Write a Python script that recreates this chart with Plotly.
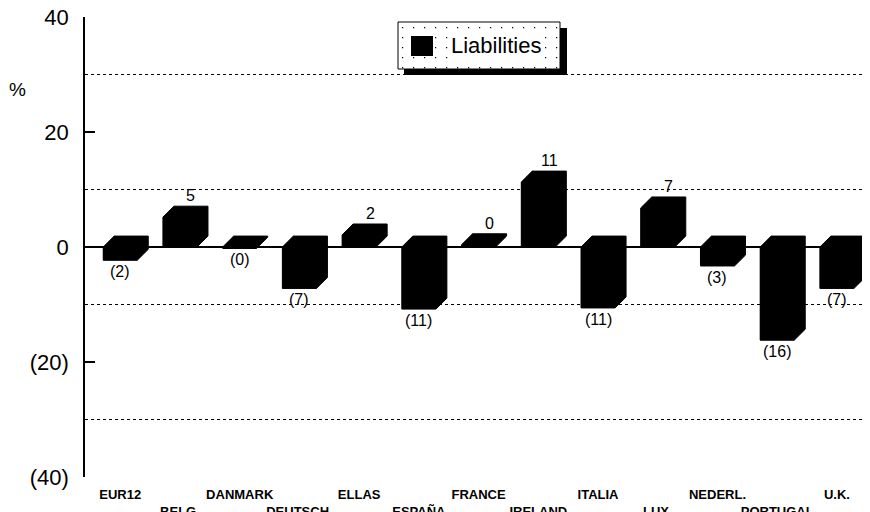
import plotly.graph_objects as go

categories = ["EUR12", "BELG.", "DANMARK", "DEUTSCH.", "ELLAS", "ESPAÑA", "FRANCE",
              "IRELAND", "ITALIA", "LUX.", "NEDERL.", "PORTUGAL", "U.K."]
liabilities = [-2.3, 5.2, -0.2, -7.2, 2.1, -10.8, 0.4, 11.3, -10.6, 6.8, -3.3, -16.2, -7.2]
y_tick_vals = [-40, -20, 0, 20, 40]
y_tick_text = ["(40)", "(20)", "0", "20", "40"]
grid_vals = [-30, -10, 10, 30]

BAR_W = 0.57
DX = 0.184   # depth offset in x units
DY = 1.9     # depth offset in y units
FONT = "Liberation Sans, Arial, Helvetica, sans-serif"

def fmt(v):
    r = round(abs(v))
    return f"({r})" if v < 0 else f"{r}"

xs = list(range(len(categories)))

# 3D silhouette polygons built from the data values
px, py = [], []
for i, v in zip(xs, liabilities):
    x0, x1 = i - BAR_W / 2, i + BAR_W / 2
    lo, hi = min(0, v), max(0, v)
    px += [x0, x1, x1 + DX, x1 + DX, x0 + DX, x0, x0, None]
    py += [lo, lo, lo + DY, hi + DY, hi + DY, hi, lo, None]

fig = go.Figure()
fig.add_trace(go.Scatter(x=px, y=py, mode="lines", fill="toself",
                         fillcolor="black", line=dict(color="black", width=1),
                         hoverinfo="skip", showlegend=False))
fig.add_trace(go.Bar(x=xs, y=liabilities, width=BAR_W, marker=dict(color="black", line=dict(width=0)),
                     name="Liabilities", showlegend=False))

# page has an 8px body margin; figure is sized/offset to compensate
OFF = 8
W, H = 870 - OFF, 512 - OFF
L, R, T, B = 85 - OFF, 2, 17 - OFF, 35
pw, ph = W - L - R, H - T - B

def pxp(x):
    return (x - OFF - L) / pw

def pyp(y):
    return (H - B - (y - OFF)) / ph

annotations = []
for i, v in zip(xs, liabilities):
    if v >= 0:
        annotations.append(dict(x=i + DX, y=v + DY, text=fmt(v), showarrow=False,
                                yanchor="bottom", yshift=0, xref="x", yref="y",
                                font=dict(family=FONT, size=16, color="black")))
    else:
        annotations.append(dict(x=i, y=v, text=fmt(v), showarrow=False,
                                yanchor="top", yshift=-1, xref="x", yref="y",
                                font=dict(family=FONT, size=16, color="black")))

annotations.append(dict(x=pxp(17), y=pyp(90), xref="paper", yref="paper", text="%", showarrow=False,
                        xanchor="center", yanchor="middle",
                        font=dict(family=FONT, size=19, color="black")))

shapes = []
for g in grid_vals:
    shapes.append(dict(type="line", xref="paper", yref="y", x0=0, x1=1, y0=g, y1=g,
                       line=dict(color="black", width=1, dash="dot"), layer="below"))

# legend box (shadow, box, key)
shapes.append(dict(type="rect", xref="paper", yref="paper", x0=pxp(404), x1=pxp(567),
                   y0=pyp(75), y1=pyp(28), fillcolor="black", line=dict(width=0)))
shapes.append(dict(type="rect", xref="paper", yref="paper", x0=pxp(398), x1=pxp(560),
                   y0=pyp(69), y1=pyp(22), fillcolor="white", line=dict(color="black", width=1)))
for yy in range(27, 68, 10):
    for xx in range(402, 558, 11):
        shapes.append(dict(type="rect", xref="paper", yref="paper", x0=pxp(xx), x1=pxp(xx + 1.2),
                           y0=pyp(yy + 1.2), y1=pyp(yy), fillcolor="black", line=dict(width=0)))
shapes.append(dict(type="rect", xref="paper", yref="paper", x0=pxp(411), x1=pxp(433),
                   y0=pyp(56), y1=pyp(36), fillcolor="black", line=dict(width=0)))
annotations.append(dict(x=pxp(496), y=pyp(46), xref="paper", yref="paper", text="Liabilities",
                        showarrow=False, xanchor="center", yanchor="middle", bgcolor="white",
                        font=dict(family=FONT, size=22, color="black")))

tick_text_x = [c if i % 2 == 0 else "<br>" + c for i, c in enumerate(categories)]

fig.update_layout(
    width=W, height=H,
    margin=dict(l=L, r=R, t=T, b=B, autoexpand=False),
    paper_bgcolor="white", plot_bgcolor="white",
    showlegend=False,
    annotations=annotations,
    shapes=shapes,
    xaxis=dict(range=[-0.59, 12.52], tickvals=xs, ticktext=tick_text_x, showgrid=False,
               zeroline=False, showline=False, ticks="", ticklabelstandoff=8,
               tickangle=0, automargin=False, ticklabeloverflow="allow",
               tickfont=dict(family=FONT, size=13, color="black", weight="bold")),
    yaxis=dict(range=[-40, 40], tickvals=y_tick_vals, ticktext=y_tick_text, showgrid=False,
               zeroline=True, zerolinecolor="black", zerolinewidth=1.5,
               showline=True, linecolor="black", linewidth=1.5, ticks="",
               ticklabelstandoff=10, automargin=False, ticklabeloverflow="allow",
               minor=dict(tickvals=[-20, 20], ticks="inside", ticklen=10, tickcolor="black",
                          tickwidth=1.5, showgrid=False),
               tickfont=dict(family=FONT, size=22, color="black")),
)

fig.write_html("out.html")
